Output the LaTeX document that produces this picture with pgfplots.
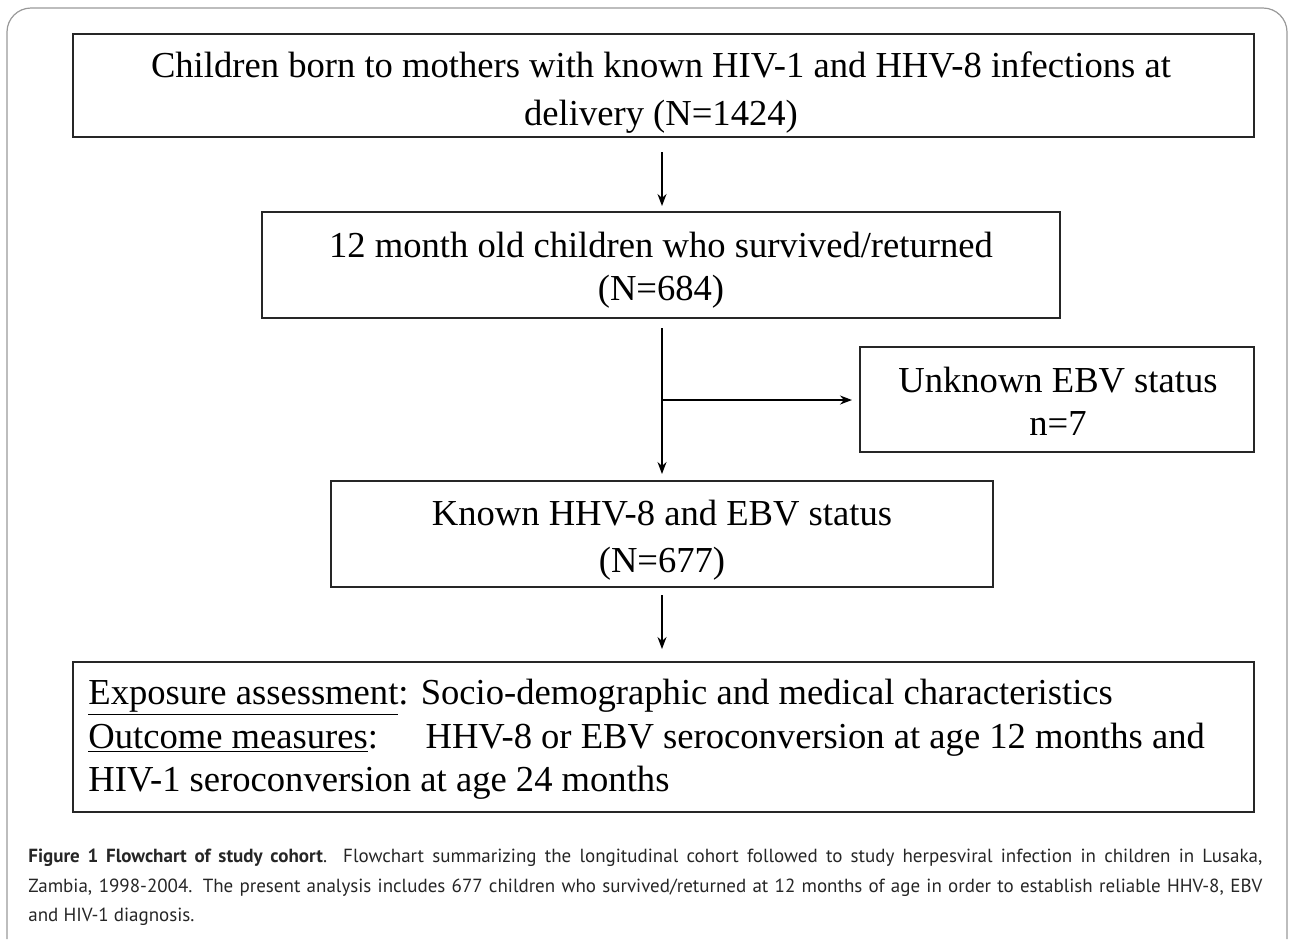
\documentclass[border=0pt]{standalone}
\usepackage{fontspec}
\setmainfont{Liberation Serif}
\newfontfamily\capfont{PT Sans}
\usepackage{pgfplots}
\pgfplotsset{compat=1.18}
\usetikzlibrary{arrows.meta}
\begin{document}
\begin{tikzpicture}
\begin{axis}[width=645.5pt,height=469.5pt,scale only axis,
  xmin=0,xmax=1291,ymin=0,ymax=939,y dir=reverse,
  axis lines=none,ticks=none,clip=false]
\coordinate (tl) at (axis cs:0,0);
\coordinate (br) at (axis cs:1291,939);
% outer frame
\draw[black!40, line width=0.6pt, rounded corners=12pt] (axis cs:7,939) -- (axis cs:7,8) -- (axis cs:1287,8) -- (axis cs:1287,939);
% boxes
\tikzset{bx/.style={line width=1.2pt,black!85}}
\draw[bx] (axis cs:73,34) rectangle (axis cs:1254,137);
\draw[bx] (axis cs:262,212) rectangle (axis cs:1060,318);
\draw[bx] (axis cs:860,347) rectangle (axis cs:1254,452);
\draw[bx] (axis cs:331,481) rectangle (axis cs:993,587);
\draw[bx] (axis cs:73,662) rectangle (axis cs:1254,812);
% arrows
\tikzset{ar/.style={line width=0.7pt,-{Stealth[length=6pt,width=4.5pt]}}}
\draw[ar] (axis cs:662,152) -- (axis cs:662,206);
\draw[ar] (axis cs:662,328) -- (axis cs:662,474);
\draw[ar] (axis cs:662,400) -- (axis cs:852,400);
\draw[ar] (axis cs:662,595) -- (axis cs:662,649);
% texts
\tikzset{bt/.style={inner sep=0pt,anchor=base,font=\fontsize{18.3}{20}\selectfont}}
\node[bt] at (axis cs:661,77) {Children born to mothers with known HIV-1 and HHV-8 infections at};
\node[bt] at (axis cs:661,125) {delivery (N=1424)};
\node[bt] at (axis cs:661,257) {12 month old children who survived/returned};
\node[bt] at (axis cs:661,300) {(N=684)};
\node[bt] at (axis cs:1058,392) {Unknown EBV status};
\node[bt] at (axis cs:1058,435) {n=7};
\node[bt] at (axis cs:662,525) {Known HHV-8 and EBV status};
\node[bt] at (axis cs:662,572) {(N=677)};
\node[bt,anchor=base west] at (axis cs:88,704) {\underline{Exposure assessment}: Socio-demographic and medical characteristics};
\node[bt,anchor=base west] at (axis cs:88,748) {\underline{Outcome measures}:\hspace{1.3em}HHV-8 or EBV seroconversion at age 12 months and};
\node[bt,anchor=base west] at (axis cs:88,791) {HIV-1 seroconversion at age 24 months};
% caption
\tikzset{ct/.style={inner sep=0pt,anchor=base west,font=\capfont\fontsize{9.5}{12}\selectfont,black!85}}
\node[ct] at (axis cs:28,862) {\makebox[617pt][s]{\textbf{Figure 1 Flowchart of study cohort}. Flowchart summarizing the longitudinal cohort followed to study herpesviral infection in children in Lusaka,}};
\node[ct] at (axis cs:28,892) {\makebox[617pt][s]{Zambia, 1998-2004. The present analysis includes 677 children who survived/returned at 12 months of age in order to establish reliable HHV-8, EBV}};
\node[ct] at (axis cs:28,921) {and HIV-1 diagnosis.};
\end{axis}
\pgfresetboundingbox
\path[use as bounding box] (tl) rectangle (br);
\end{tikzpicture}
\end{document}
